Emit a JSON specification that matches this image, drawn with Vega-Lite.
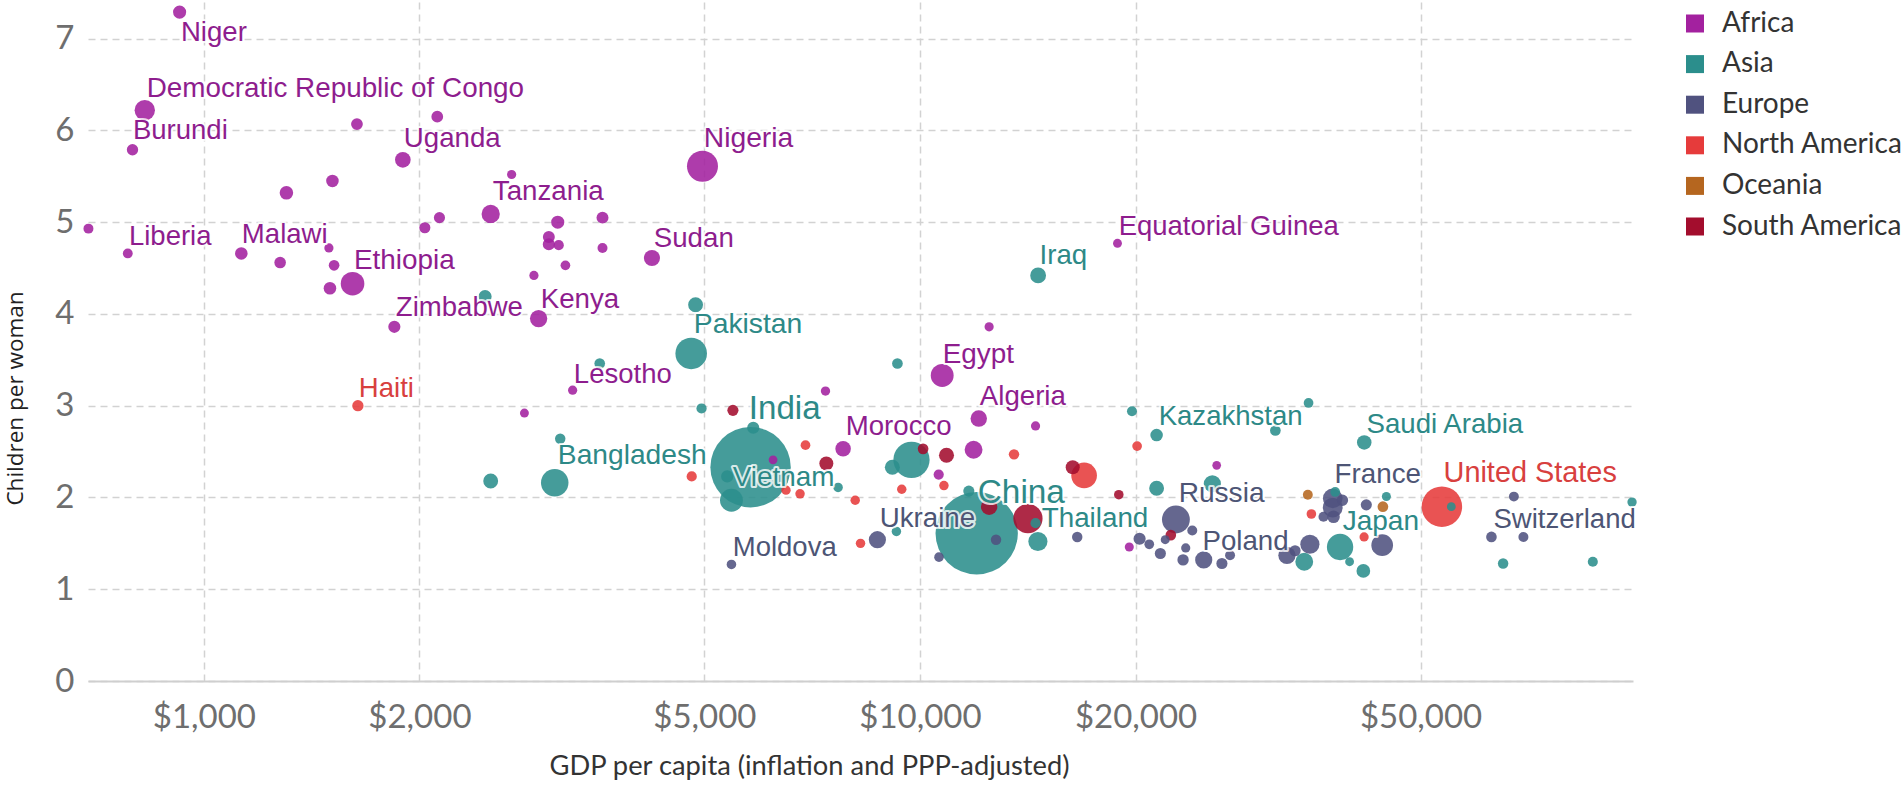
{
  "$schema": "https://vega.github.io/schema/vega-lite/v6.json",
  "width": 1545,
  "height": 679,
  "autosize": {"type": "none"},
  "padding": {"left": 88, "top": 2, "right": 268, "bottom": 104},
  "background": "white",
  "config": {"view": {"stroke": null}},
  "datasets": {
    "points": [
      {"country": "Niger", "continent": "Africa", "gdp": 925, "tfr": 7.29, "pop": 20},
      {"country": "Congo, Dem. Rep.", "continent": "Africa", "gdp": 827, "tfr": 6.22, "pop": 70},
      {"country": "Burundi", "continent": "Africa", "gdp": 795, "tfr": 5.79, "pop": 11},
      {"country": "Central African Republic", "continent": "Africa", "gdp": 690, "tfr": 4.93, "pop": 5},
      {"country": "Liberia", "continent": "Africa", "gdp": 783, "tfr": 4.66, "pop": 4.5},
      {"country": "Malawi", "continent": "Africa", "gdp": 1128, "tfr": 4.66, "pop": 17},
      {"country": "Madagascar", "continent": "Africa", "gdp": 1278, "tfr": 4.56, "pop": 12},
      {"country": "Mozambique", "continent": "Africa", "gdp": 1304, "tfr": 5.32, "pop": 22},
      {"country": "Mali", "continent": "Africa", "gdp": 1512, "tfr": 5.45, "pop": 17},
      {"country": "Guinea-Bissau", "continent": "Africa", "gdp": 1495, "tfr": 4.72, "pop": 2},
      {"country": "Rwanda", "continent": "Africa", "gdp": 1520, "tfr": 4.53, "pop": 8},
      {"country": "Burkina Faso", "continent": "Africa", "gdp": 1500, "tfr": 4.28, "pop": 17},
      {"country": "Ethiopia", "continent": "Africa", "gdp": 1613, "tfr": 4.33, "pop": 99},
      {"country": "Chad", "continent": "Africa", "gdp": 1636, "tfr": 6.07, "pop": 13},
      {"country": "Uganda", "continent": "Africa", "gdp": 1896, "tfr": 5.68, "pop": 35},
      {"country": "Somalia", "continent": "Africa", "gdp": 2118, "tfr": 6.15, "pop": 13},
      {"country": "Zimbabwe", "continent": "Africa", "gdp": 1845, "tfr": 3.86, "pop": 15},
      {"country": "Sierra Leone", "continent": "Africa", "gdp": 2035, "tfr": 4.94, "pop": 10},
      {"country": "Togo", "continent": "Africa", "gdp": 2133, "tfr": 5.05, "pop": 10},
      {"country": "Tanzania", "continent": "Africa", "gdp": 2515, "tfr": 5.09, "pop": 53},
      {"country": "Gambia", "continent": "Africa", "gdp": 2690, "tfr": 5.52, "pop": 2},
      {"country": "Kenya", "continent": "Africa", "gdp": 2934, "tfr": 3.95, "pop": 46},
      {"country": "Comoros", "continent": "Africa", "gdp": 2890, "tfr": 4.42, "pop": 2},
      {"country": "Benin", "continent": "Africa", "gdp": 3032, "tfr": 4.84, "pop": 14},
      {"country": "Senegal", "continent": "Africa", "gdp": 3032, "tfr": 4.76, "pop": 15},
      {"country": "Guinea", "continent": "Africa", "gdp": 3130, "tfr": 4.75, "pop": 6},
      {"country": "Cameroon", "continent": "Africa", "gdp": 3120, "tfr": 5.0, "pop": 20},
      {"country": "Mauritania", "continent": "Africa", "gdp": 3198, "tfr": 4.53, "pop": 4},
      {"country": "Cote d'Ivoire", "continent": "Africa", "gdp": 3603, "tfr": 5.05, "pop": 14},
      {"country": "Congo, Rep.", "continent": "Africa", "gdp": 3603, "tfr": 4.72, "pop": 5},
      {"country": "Lesotho", "continent": "Africa", "gdp": 3273, "tfr": 3.17, "pop": 2},
      {"country": "Djibouti", "continent": "Africa", "gdp": 2803, "tfr": 2.92, "pop": 1},
      {"country": "Sudan", "continent": "Africa", "gdp": 4224, "tfr": 4.61, "pop": 38},
      {"country": "Nigeria", "continent": "Africa", "gdp": 4969, "tfr": 5.61, "pop": 182},
      {"country": "Egypt", "continent": "Africa", "gdp": 10740, "tfr": 3.33, "pop": 92},
      {"country": "Gabon", "continent": "Africa", "gdp": 12490, "tfr": 3.86, "pop": 2},
      {"country": "Equatorial Guinea", "continent": "Africa", "gdp": 18870, "tfr": 4.77, "pop": 1},
      {"country": "Algeria", "continent": "Africa", "gdp": 12080, "tfr": 2.86, "pop": 40},
      {"country": "Botswana", "continent": "Africa", "gdp": 14500, "tfr": 2.78, "pop": 2},
      {"country": "South Africa", "continent": "Africa", "gdp": 11880, "tfr": 2.52, "pop": 50},
      {"country": "Tunisia", "continent": "Africa", "gdp": 10620, "tfr": 2.25, "pop": 6},
      {"country": "Namibia", "continent": "Africa", "gdp": 7380, "tfr": 3.16, "pop": 2.5},
      {"country": "Cape Verde", "continent": "Africa", "gdp": 6235, "tfr": 2.41, "pop": 0.5},
      {"country": "Seychelles", "continent": "Africa", "gdp": 25960, "tfr": 2.35, "pop": 0.1},
      {"country": "Mauritius", "continent": "Africa", "gdp": 19600, "tfr": 1.46, "pop": 1.3},
      {"country": "Morocco", "continent": "Africa", "gdp": 7810, "tfr": 2.53, "pop": 34},
      {"country": "Pakistan", "continent": "Asia", "gdp": 4792, "tfr": 3.57, "pop": 189},
      {"country": "Afghanistan", "continent": "Asia", "gdp": 4860, "tfr": 4.1, "pop": 30},
      {"country": "Jordan", "continent": "Asia", "gdp": 9300, "tfr": 3.46, "pop": 8},
      {"country": "Iraq", "continent": "Asia", "gdp": 14620, "tfr": 4.42, "pop": 36},
      {"country": "Yemen", "continent": "Asia", "gdp": 2470, "tfr": 4.19, "pop": 20},
      {"country": "Tajikistan", "continent": "Asia", "gdp": 3571, "tfr": 3.46, "pop": 8},
      {"country": "Laos", "continent": "Asia", "gdp": 3145, "tfr": 2.64, "pop": 7},
      {"country": "Bangladesh", "continent": "Asia", "gdp": 3090, "tfr": 2.16, "pop": 140},
      {"country": "Myanmar", "continent": "Asia", "gdp": 2515, "tfr": 2.18, "pop": 30},
      {"country": "Kyrgyzstan", "continent": "Asia", "gdp": 4954, "tfr": 2.97, "pop": 6},
      {"country": "India", "continent": "Asia", "gdp": 5800, "tfr": 2.33, "pop": 1310},
      {"country": "Vietnam", "continent": "Asia", "gdp": 5454, "tfr": 1.97, "pop": 92},
      {"country": "Nepal", "continent": "Asia", "gdp": 5850, "tfr": 2.76, "pop": 15},
      {"country": "Cambodia", "continent": "Asia", "gdp": 5380, "tfr": 2.23, "pop": 15},
      {"country": "Bhutan", "continent": "Asia", "gdp": 7685, "tfr": 2.11, "pop": 3},
      {"country": "Indonesia", "continent": "Asia", "gdp": 9730, "tfr": 2.41, "pop": 255},
      {"country": "Uzbekistan", "continent": "Asia", "gdp": 9150, "tfr": 2.33, "pop": 31},
      {"country": "China", "continent": "Asia", "gdp": 12000, "tfr": 1.61, "pop": 1376},
      {"country": "Azerbaijan", "continent": "Asia", "gdp": 11700, "tfr": 2.07, "pop": 10},
      {"country": "Thailand", "continent": "Asia", "gdp": 14610, "tfr": 1.52, "pop": 60},
      {"country": "Lebanon", "continent": "Asia", "gdp": 14500, "tfr": 1.72, "pop": 6},
      {"country": "Armenia", "continent": "Asia", "gdp": 9270, "tfr": 1.63, "pop": 3},
      {"country": "Kazakhstan", "continent": "Asia", "gdp": 21400, "tfr": 2.68, "pop": 17},
      {"country": "Turkmenistan", "continent": "Asia", "gdp": 19770, "tfr": 2.94, "pop": 5},
      {"country": "Oman", "continent": "Asia", "gdp": 34880, "tfr": 3.03, "pop": 4},
      {"country": "Israel", "continent": "Asia", "gdp": 31350, "tfr": 2.73, "pop": 8},
      {"country": "Saudi Arabia", "continent": "Asia", "gdp": 41720, "tfr": 2.6, "pop": 28},
      {"country": "Malaysia", "continent": "Asia", "gdp": 21400, "tfr": 2.1, "pop": 30},
      {"country": "Turkey", "continent": "Asia", "gdp": 25600, "tfr": 2.15, "pop": 45},
      {"country": "Bahrain", "continent": "Asia", "gdp": 44800, "tfr": 2.01, "pop": 1.4},
      {"country": "Kuwait", "continent": "Asia", "gdp": 38000, "tfr": 2.06, "pop": 4},
      {"country": "Brunei", "continent": "Asia", "gdp": 55200, "tfr": 1.9, "pop": 0.4},
      {"country": "Qatar", "continent": "Asia", "gdp": 98700, "tfr": 1.95, "pop": 2.5},
      {"country": "Japan", "continent": "Asia", "gdp": 38600, "tfr": 1.46, "pop": 127},
      {"country": "Macao", "continent": "Asia", "gdp": 39800, "tfr": 1.3, "pop": 0.6},
      {"country": "Taiwan", "continent": "Asia", "gdp": 41600, "tfr": 1.2, "pop": 23},
      {"country": "South Korea", "continent": "Asia", "gdp": 34400, "tfr": 1.3, "pop": 50},
      {"country": "Hong Kong", "continent": "Asia", "gdp": 65200, "tfr": 1.28, "pop": 7},
      {"country": "Singapore", "continent": "Asia", "gdp": 87000, "tfr": 1.3, "pop": 5.5},
      {"country": "Moldova", "continent": "Europe", "gdp": 5454, "tfr": 1.27, "pop": 3.5},
      {"country": "Ukraine", "continent": "Europe", "gdp": 8720, "tfr": 1.54, "pop": 45},
      {"country": "Bosnia and Herzegovina", "continent": "Europe", "gdp": 10630, "tfr": 1.35, "pop": 3.5},
      {"country": "Serbia", "continent": "Europe", "gdp": 12770, "tfr": 1.54, "pop": 7},
      {"country": "Bulgaria", "continent": "Europe", "gdp": 16580, "tfr": 1.57, "pop": 7},
      {"country": "Russia", "continent": "Europe", "gdp": 22770, "tfr": 1.76, "pop": 144},
      {"country": "Belarus", "continent": "Europe", "gdp": 24000, "tfr": 1.64, "pop": 5},
      {"country": "Romania", "continent": "Europe", "gdp": 20260, "tfr": 1.55, "pop": 15},
      {"country": "Croatia", "continent": "Europe", "gdp": 20900, "tfr": 1.49, "pop": 4},
      {"country": "Montenegro", "continent": "Europe", "gdp": 22000, "tfr": 1.54, "pop": 1},
      {"country": "Hungary", "continent": "Europe", "gdp": 21660, "tfr": 1.39, "pop": 10},
      {"country": "Greece", "continent": "Europe", "gdp": 23300, "tfr": 1.32, "pop": 11},
      {"country": "Latvia", "continent": "Europe", "gdp": 23500, "tfr": 1.45, "pop": 2},
      {"country": "Poland", "continent": "Europe", "gdp": 24900, "tfr": 1.32, "pop": 45},
      {"country": "Portugal", "continent": "Europe", "gdp": 26400, "tfr": 1.28, "pop": 10},
      {"country": "Slovakia", "continent": "Europe", "gdp": 27100, "tfr": 1.37, "pop": 5},
      {"country": "Spain", "continent": "Europe", "gdp": 32540, "tfr": 1.37, "pop": 46},
      {"country": "Italy", "continent": "Europe", "gdp": 35030, "tfr": 1.49, "pop": 60},
      {"country": "Czech Republic", "continent": "Europe", "gdp": 33400, "tfr": 1.42, "pop": 10},
      {"country": "France", "continent": "Europe", "gdp": 37700, "tfr": 1.99, "pop": 64},
      {"country": "United Kingdom", "continent": "Europe", "gdp": 37700, "tfr": 1.89, "pop": 65},
      {"country": "Belgium", "continent": "Europe", "gdp": 38900, "tfr": 1.97, "pop": 11},
      {"country": "Finland", "continent": "Europe", "gdp": 36600, "tfr": 1.79, "pop": 5.5},
      {"country": "Netherlands", "continent": "Europe", "gdp": 37800, "tfr": 1.79, "pop": 17},
      {"country": "Sweden", "continent": "Europe", "gdp": 42000, "tfr": 1.92, "pop": 10},
      {"country": "Germany", "continent": "Europe", "gdp": 44200, "tfr": 1.48, "pop": 81},
      {"country": "Ireland", "continent": "Europe", "gdp": 67500, "tfr": 2.01, "pop": 4.6},
      {"country": "Switzerland", "continent": "Europe", "gdp": 62800, "tfr": 1.57, "pop": 8},
      {"country": "Norway", "continent": "Europe", "gdp": 69600, "tfr": 1.57, "pop": 5.2},
      {"country": "Haiti", "continent": "North America", "gdp": 1641, "tfr": 3.0, "pop": 10.7},
      {"country": "United States", "continent": "North America", "gdp": 53550, "tfr": 1.9, "pop": 321},
      {"country": "Mexico", "continent": "North America", "gdp": 16950, "tfr": 2.24, "pop": 120},
      {"country": "Panama", "continent": "North America", "gdp": 20100, "tfr": 2.56, "pop": 4},
      {"country": "Puerto Rico", "continent": "North America", "gdp": 35200, "tfr": 1.82, "pop": 3.5},
      {"country": "Nicaragua", "continent": "North America", "gdp": 4800, "tfr": 2.23, "pop": 6},
      {"country": "Guatemala", "continent": "North America", "gdp": 6920, "tfr": 2.57, "pop": 4},
      {"country": "Jamaica", "continent": "North America", "gdp": 8120, "tfr": 1.97, "pop": 3},
      {"country": "Grenada", "continent": "North America", "gdp": 8260, "tfr": 1.5, "pop": 3},
      {"country": "El Salvador", "continent": "North America", "gdp": 9430, "tfr": 2.09, "pop": 3},
      {"country": "Belize", "continent": "North America", "gdp": 10800, "tfr": 2.13, "pop": 3},
      {"country": "Dominican Republic", "continent": "North America", "gdp": 13530, "tfr": 2.47, "pop": 7},
      {"country": "Bahamas", "continent": "North America", "gdp": 41700, "tfr": 1.57, "pop": 2},
      {"country": "Honduras", "continent": "North America", "gdp": 6500, "tfr": 2.08, "pop": 2.5},
      {"country": "Costa Rica", "continent": "North America", "gdp": 6800, "tfr": 2.04, "pop": 3},
      {"country": "Brazil", "continent": "South America", "gdp": 14150, "tfr": 1.77, "pop": 160},
      {"country": "Colombia", "continent": "South America", "gdp": 12490, "tfr": 1.9, "pop": 40},
      {"country": "Peru", "continent": "South America", "gdp": 10890, "tfr": 2.46, "pop": 31},
      {"country": "Ecuador", "continent": "South America", "gdp": 10100, "tfr": 2.53, "pop": 8},
      {"country": "Paraguay", "continent": "South America", "gdp": 7400, "tfr": 2.37, "pop": 25},
      {"country": "Bolivia", "continent": "South America", "gdp": 5480, "tfr": 2.95, "pop": 10},
      {"country": "Argentina", "continent": "South America", "gdp": 16340, "tfr": 2.33, "pop": 25},
      {"country": "Chile", "continent": "South America", "gdp": 22400, "tfr": 1.59, "pop": 8},
      {"country": "Uruguay", "continent": "South America", "gdp": 18950, "tfr": 2.03, "pop": 3.4},
      {"country": "New Zealand", "continent": "Oceania", "gdp": 34800, "tfr": 2.03, "pop": 4.6},
      {"country": "Australia", "continent": "Oceania", "gdp": 44300, "tfr": 1.9, "pop": 8}
    ],
    "labels": [
      {"country": "Niger", "continent": "Africa", "gdp": 929, "tfr": 6.98, "pop": 20},
      {"country": "Democratic Republic of Congo", "continent": "Africa", "gdp": 832, "tfr": 6.36, "pop": 77},
      {"country": "Burundi", "continent": "Africa", "gdp": 796, "tfr": 5.91, "pop": 11},
      {"country": "Uganda", "continent": "Africa", "gdp": 1902, "tfr": 5.82, "pop": 39},
      {"country": "Tanzania", "continent": "Africa", "gdp": 2532, "tfr": 5.24, "pop": 53},
      {"country": "Liberia", "continent": "Africa", "gdp": 786, "tfr": 4.75, "pop": 4.5},
      {"country": "Malawi", "continent": "Africa", "gdp": 1130, "tfr": 4.77, "pop": 17},
      {"country": "Ethiopia", "continent": "Africa", "gdp": 1620, "tfr": 4.49, "pop": 99},
      {"country": "Zimbabwe", "continent": "Africa", "gdp": 1854, "tfr": 3.98, "pop": 15},
      {"country": "Kenya", "continent": "Africa", "gdp": 2954, "tfr": 4.07, "pop": 46},
      {"country": "Lesotho", "continent": "Africa", "gdp": 3286, "tfr": 3.25, "pop": 2},
      {"country": "Haiti", "continent": "North America", "gdp": 1646, "tfr": 3.1, "pop": 10.7},
      {"country": "Sudan", "continent": "Africa", "gdp": 4249, "tfr": 4.73, "pop": 38},
      {"country": "Nigeria", "continent": "Africa", "gdp": 4989, "tfr": 5.82, "pop": 182},
      {"country": "Pakistan", "continent": "Asia", "gdp": 4832, "tfr": 3.79, "pop": 189},
      {"country": "Egypt", "continent": "Africa", "gdp": 10760, "tfr": 3.47, "pop": 92},
      {"country": "Iraq", "continent": "Asia", "gdp": 14690, "tfr": 4.55, "pop": 36},
      {"country": "Equatorial Guinea", "continent": "Africa", "gdp": 18940, "tfr": 4.86, "pop": 1},
      {"country": "Algeria", "continent": "Africa", "gdp": 12120, "tfr": 3.01, "pop": 40},
      {"country": "Morocco", "continent": "Africa", "gdp": 7875, "tfr": 2.68, "pop": 34},
      {"country": "India", "continent": "Asia", "gdp": 5767, "tfr": 2.86, "pop": 1310},
      {"country": "Vietnam", "continent": "Asia", "gdp": 5477, "tfr": 2.13, "pop": 92},
      {"country": "Bangladesh", "continent": "Asia", "gdp": 3121, "tfr": 2.37, "pop": 160},
      {"country": "Moldova", "continent": "Europe", "gdp": 5477, "tfr": 1.36, "pop": 3.5},
      {"country": "Ukraine", "continent": "Europe", "gdp": 8785, "tfr": 1.68, "pop": 45},
      {"country": "China", "continent": "Asia", "gdp": 12040, "tfr": 1.94, "pop": 1376},
      {"country": "Thailand", "continent": "Asia", "gdp": 14790, "tfr": 1.68, "pop": 68},
      {"country": "Kazakhstan", "continent": "Asia", "gdp": 21540, "tfr": 2.79, "pop": 17},
      {"country": "Saudi Arabia", "continent": "Asia", "gdp": 42030, "tfr": 2.7, "pop": 31},
      {"country": "Russia", "continent": "Europe", "gdp": 22970, "tfr": 1.95, "pop": 144},
      {"country": "Poland", "continent": "Europe", "gdp": 24800, "tfr": 1.43, "pop": 38},
      {"country": "France", "continent": "Europe", "gdp": 37930, "tfr": 2.16, "pop": 64},
      {"country": "United States", "continent": "North America", "gdp": 53840, "tfr": 2.17, "pop": 321},
      {"country": "Japan", "continent": "Asia", "gdp": 38920, "tfr": 1.65, "pop": 127},
      {"country": "Switzerland", "continent": "Europe", "gdp": 63220, "tfr": 1.67, "pop": 8}
    ]
  },
  "layer": [
    {
      "data": {"name": "points"},
      "mark": {"type": "circle", "opacity": 0.88},
      "encoding": {
        "x": {
          "field": "gdp", "type": "quantitative",
          "scale": {"type": "log", "domain": [689, 99000], "nice": false},
          "axis": {
            "values": [1000, 2000, 5000, 10000, 20000, 50000],
            "format": "$,.0f",
            "labelFont": "Lato", "labelFontSize": 33, "labelColor": "#6e6e6e",
            "labelPadding": 46, "labelBaseline": "alphabetic", "labelFlush": false, "labelOverlap": false,
            "ticks": false, "tickSize": 0,
            "domain": true, "domainColor": "#cfcfcf", "domainWidth": 2,
            "grid": true, "gridColor": "#d2d2d2", "gridDash": [7, 5], "gridWidth": 1.5,
            "title": "GDP per capita (inflation and PPP-adjusted)",
            "titleFont": "Lato", "titleFontSize": 27.3, "titleFontWeight": "normal", "titleColor": "#333333",
            "titleX": 721, "titleY": 85, "titleBaseline": "middle", "titleAlign": "center"
          }
        },
        "y": {
          "field": "tfr", "type": "quantitative",
          "scale": {"domain": [0, 7.4], "nice": false, "zero": false},
          "axis": {
            "values": [0, 1, 2, 3, 4, 5, 6, 7],
            "format": "d",
            "labelFont": "Lato", "labelFontSize": 33, "labelColor": "#6e6e6e",
            "labelPadding": 14, "ticks": false, "tickSize": 0, "domain": false,
            "grid": true, "gridColor": "#d2d2d2", "gridDash": [7, 5], "gridWidth": 1.5,
            "title": "Children per woman",
            "titleFont": "Open Sans", "titleFontSize": 22.5, "titleFontWeight": "normal", "titleColor": "#222222",
            "titleX": -73, "titleY": 396, "titleAngle": -90, "titleBaseline": "middle", "titleAlign": "center"
          }
        },
        "size": {
          "field": "pop", "type": "quantitative",
          "scale": {"type": "linear", "domain": [0, 1400], "range": [75, 6900]},
          "legend": null
        },
        "color": {
          "field": "continent", "type": "nominal",
          "scale": {
            "domain": ["Africa", "Asia", "Europe", "North America", "Oceania", "South America"],
            "range": ["#a3219f", "#2b8e8c", "#50527f", "#e63b3b", "#b5661f", "#a30d2d"]
          },
          "legend": {
            "title": null, "orient": "none", "legendX": 1593, "legendY": 7.5,
            "symbolType": "square", "symbolSize": 324, "symbolOpacity": 1, "symbolStrokeWidth": 0,
            "labelFont": "Lato", "labelFontSize": 28, "labelColor": "#333333",
            "labelOffset": 13, "rowPadding": 12.6, "padding": 0, "labelLimit": 400
          }
        },
        "order": {"field": "pop", "type": "quantitative", "sort": "descending"}
      }
    },
    {
      "data": {"name": "labels"},
      "mark": {
        "type": "text", "align": "left", "baseline": "alphabetic", "font": "Liberation Sans",
        "fill": "white", "fillOpacity": 0.8, "stroke": "white", "strokeWidth": 4, "strokeOpacity": 0.8, "strokeJoin": "round"
      },
      "encoding": {
        "x": {"field": "gdp", "type": "quantitative", "scale": {"type": "log", "domain": [689, 99000], "nice": false}},
        "y": {"field": "tfr", "type": "quantitative", "scale": {"domain": [0, 7.4], "nice": false, "zero": false}},
        "text": {"field": "country", "type": "nominal"},
        "size": {"field": "pop", "type": "quantitative", "scale": {"type": "linear", "domain": [0, 1400], "range": [27.5, 33.5]}, "legend": null}
      }
    },
    {
      "data": {"name": "labels"},
      "mark": {"type": "text", "align": "left", "baseline": "alphabetic", "font": "Liberation Sans"},
      "encoding": {
        "x": {"field": "gdp", "type": "quantitative", "scale": {"type": "log", "domain": [689, 99000], "nice": false}},
        "y": {"field": "tfr", "type": "quantitative", "scale": {"domain": [0, 7.4], "nice": false, "zero": false}},
        "text": {"field": "country", "type": "nominal"},
        "size": {"field": "pop", "type": "quantitative", "scale": {"type": "linear", "domain": [0, 1400], "range": [27.5, 33.5]}, "legend": null},
        "color": {
          "field": "continent", "type": "nominal",
          "scale": {
            "domain": ["Africa", "Asia", "Europe", "North America", "Oceania", "South America"],
            "range": ["#8e1d8e", "#2d8987", "#4d5575", "#d8403e", "#b5651d", "#a0102f"]
          },
          "legend": null
        }
      }
    }
  ],
  "resolve": {"scale": {"size": "independent", "color": "independent"}}
}
